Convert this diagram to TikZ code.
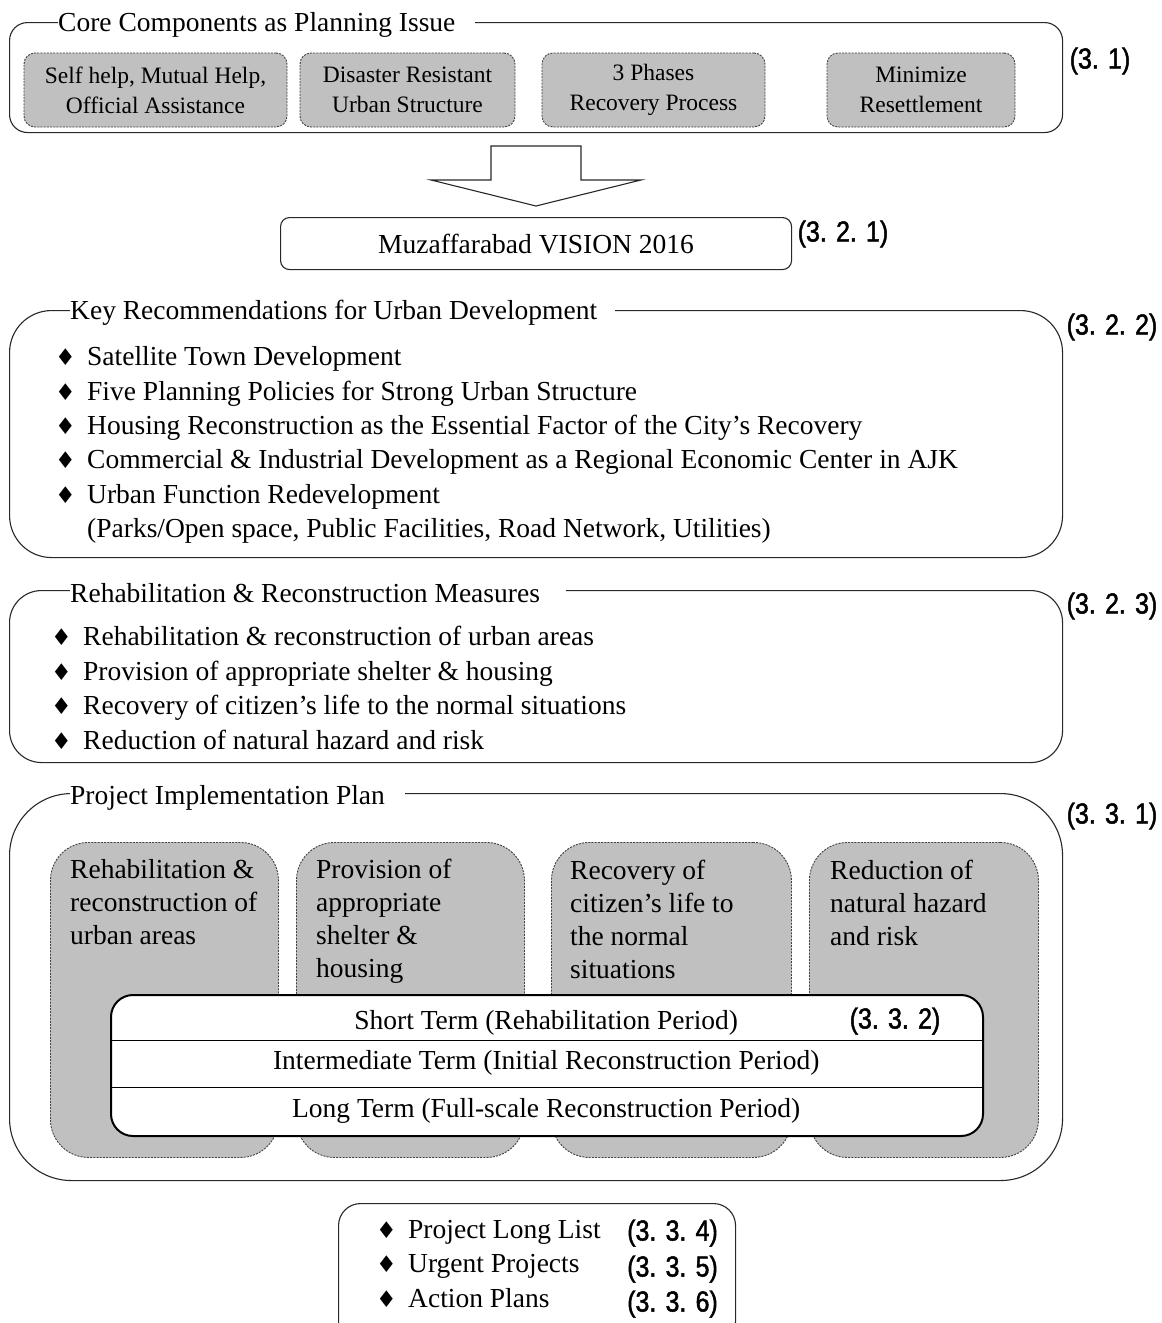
\documentclass[tikz,border=0pt]{standalone}
\usepackage{fontspec}
\setmainfont{Liberation Serif}
\newfontfamily\lblfont[FakeBold=1.6,FakeStretch=0.86]{Liberation Sans}
\newfontfamily\symfont{DejaVu Sans}
\usetikzlibrary{calc}

\definecolor{boxgray}{RGB}{192,192,192}
\definecolor{linegray}{RGB}{40,40,40}

% text sizes (1pt = 1 unit of the drawing)
\newcommand\txtL{\fontsize{27.5}{34.4}\selectfont}
\newcommand\txtM{\fontsize{27.5}{33}\selectfont}
\newcommand\txtS{\fontsize{23.5}{30}\selectfont}
% diamond bullet in a fixed-width slot
\newcommand\dmd{\makebox[32pt][l]{\symfont\fontsize{23}{23}\selectfont ♦}}

\begin{document}
\begin{tikzpicture}[x=1pt,y=-1pt,
  frame/.style={draw=linegray, line width=1.1pt, rounded corners=#1,
    inner sep=0, anchor=north west},
  ttl/.style={fill=white, inner xsep=0, inner ysep=2pt, anchor=west, font=\txtL},
  graybox/.style={draw=black!75, dash pattern=on 2pt off 1.2pt, line width=0.9pt,
    fill=boxgray, rounded corners=#1, inner sep=0},
  smalltxt/.style={align=center, font=\txtS},
  tallbox/.style={graybox=38, anchor=north west, minimum height=315},
  talltxt/.style={align=left, inner sep=0, anchor=west, font=\txtM},
  blist/.style={align=left, inner sep=0, anchor=west, font=\txtL},
  lbl/.style={font=\lblfont\fontsize{29}{29}\selectfont, inner sep=0},
  termrow/.style={inner sep=0, anchor=north west, minimum width=872},
  termtxt/.style={inner sep=0, font=\txtL}]

\useasboundingbox (0,0) rectangle (1162,1323);
\fill[white] (0,0) rectangle (1162,1323);
\clip (0,0) rectangle (1162,1323);

% ---- core components ----
\node[frame=18, minimum width=1053, minimum height=110] (core) at (9,22) {};
\node[ttl] (coreT) at (58,25) {Core Components as Planning Issue\kern20pt};
\node[graybox=11, minimum width=263, minimum height=74, smalltxt] (c1) at (155.5,90)
  {Self help, Mutual Help,\\Official Assistance};
\node[graybox=11, minimum width=215, minimum height=74, smalltxt] (c2) at (407.5,90)
  {Disaster Resistant\\Urban Structure};
\node[graybox=11, minimum width=223, minimum height=74, smalltxt] (c3) at (653.5,90)
  {3 Phases\\Recovery Process};
\node[graybox=11, minimum width=188, minimum height=74, smalltxt] (c4) at (921,90)
  {Minimize\\Resettlement};
\node[lbl] (l31) at (1100,61) {(3. 1)};

% ---- block arrow ----
\draw[linegray, line width=1.1pt, line join=miter]
  (491,146) -- (581,146) -- (581,180) -- (641,180) -- (536,206)
  -- (431,180) -- (491,180) -- cycle;

% ---- vision ----
\node[frame=9, minimum width=511, minimum height=52] (vision) at (280,217) {};
\node[font=\txtL] (visionT) at (vision.center) {Muzaffarabad VISION 2016};
\node[lbl] (l321) at (843,234) {(3. 2. 1)};

% ---- key recommendations ----
\node[frame=42, minimum width=1053, minimum height=247] (keyrec) at (9,310) {};
\node[ttl] (keyrecT) at (70,313) {Key Recommendations for Urban Development\kern18pt};
\node[blist] (keyrecL) at (55,445) {\dmd Satellite Town Development\\
  \dmd Five Planning Policies for Strong Urban Structure\\
  \dmd Housing Reconstruction as the Essential Factor of the City’s Recovery\\
  \dmd Commercial \& Industrial Development as a Regional Economic Center in AJK\\
  \dmd Urban Function Redevelopment\\
  \phantom{\dmd}(Parks/Open space, Public Facilities, Road Network, Utilities)};
\node[lbl] (l322) at (1112,327) {(3. 2. 2)};

% ---- rehabilitation measures ----
\node[frame=32, minimum width=1053, minimum height=172] (rehab) at (9,590) {};
\node[ttl] (rehabT) at (70,593) {Rehabilitation \& Reconstruction Measures\kern26pt};
\node[blist] (rehabL) at (51,688) {\dmd Rehabilitation \& reconstruction of urban areas\\
  \dmd Provision of appropriate shelter \& housing\\
  \dmd Recovery of citizen’s life to the normal situations\\
  \dmd Reduction of natural hazard and risk};
\node[lbl] (l323) at (1112,606) {(3. 2. 3)};

% ---- project implementation plan ----
\node[frame=62, minimum width=1053, minimum height=387] (proj) at (9,793) {};
\node[ttl] (projT) at (70,798) {Project Implementation Plan\kern20pt};
\node[lbl] (l331) at (1112,816) {(3. 3. 1)};

\node[tallbox, minimum width=228] (p1) at (50,842) {};
\node[tallbox, minimum width=228] (p2) at (296,842) {};
\node[tallbox, minimum width=240] (p3) at (551,842) {};
\node[tallbox, minimum width=229] (p4) at (809,842) {};
\node[talltxt] (p1T) at (70,902.5) {Rehabilitation \&\\reconstruction of\\urban areas};
\node[talltxt] (p2T) at (316,921) {Provision of\\appropriate\\shelter \&\\housing};
\node[talltxt] (p3T) at (570,919) {Recovery of\\citizen’s life to\\the normal\\situations};
\node[talltxt] (p4T) at (830,902.5) {Reduction of\\natural hazard\\and risk};

% ---- three terms ----
\node[draw=black, line width=2pt, rounded corners=22, fill=white, inner sep=0,
  anchor=north west, minimum width=872, minimum height=141] (terms) at (110,994) {};
\node[termrow, minimum height=46] (r1) at (110,994) {};
\node[termrow, minimum height=47] (r2) at (110,1040) {};
\node[termrow, minimum height=48] (r3) at (110,1087) {};
\draw[black, line width=1.5pt] (r1.south west) -- (r1.south east);
\draw[black, line width=1.5pt] (r2.south west) -- (r2.south east);
\node[termtxt] (r1T) at ($(r1.center)+(0,5.5)$) {Short Term (Rehabilitation Period)};
\node[termtxt] (r2T) at ($(r2.center)+(0,-1)$) {Intermediate Term (Initial Reconstruction Period)};
\node[termtxt] (r3T) at ($(r3.center)+(0,-0.5)$) {Long Term (Full-scale Reconstruction Period)};
\node[lbl] (l332) at (895,1021) {(3. 3. 2)};

% ---- project lists ----
\node[frame=22, minimum width=397, minimum height=140] (outputs) at (338,1203) {};
\node[blist] (outputsL) at (376,1264) {\dmd Project Long List\\
  \dmd Urgent Projects\\
  \dmd Action Plans};
\node[lbl, anchor=east] (l334) at (718,1233) {(3. 3. 4)};
\node[lbl, anchor=east] (l335) at (718,1269) {(3. 3. 5)};
\node[lbl, anchor=east] (l336) at (718,1304) {(3. 3. 6)};
\end{tikzpicture}
\end{document}
